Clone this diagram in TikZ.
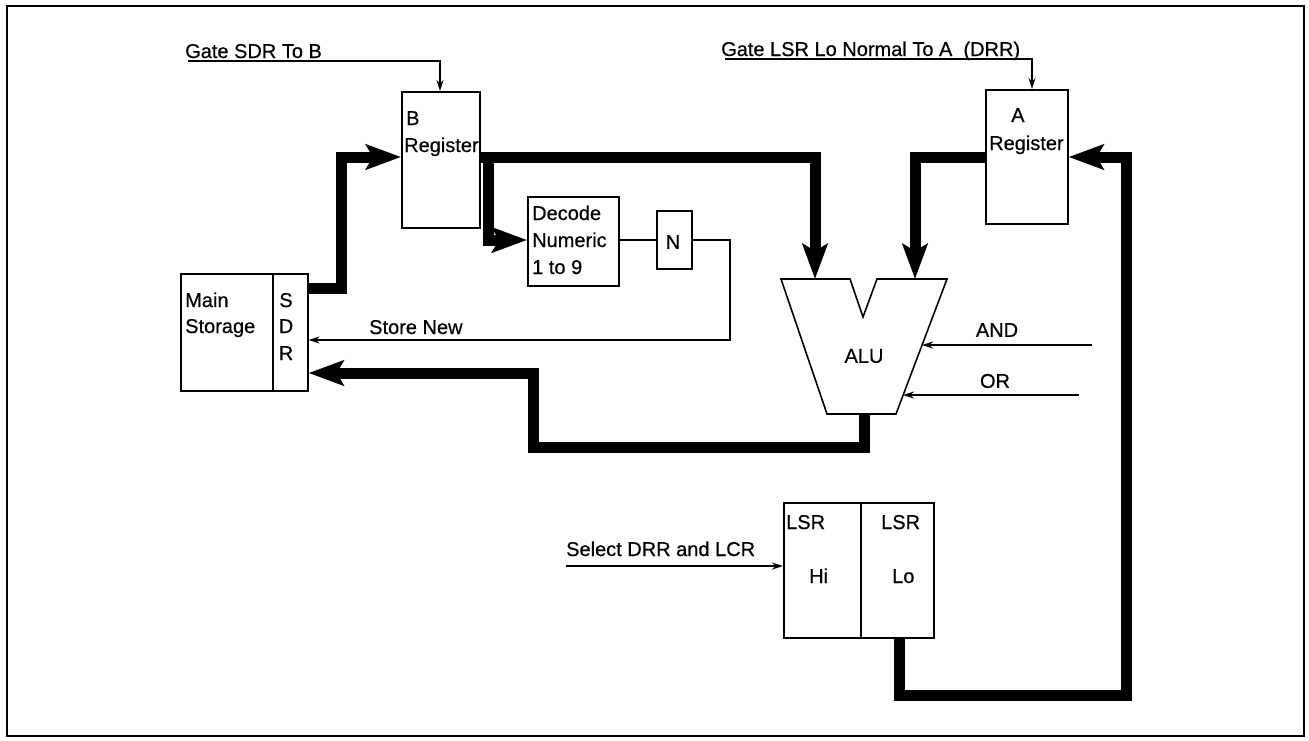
\documentclass[tikz,border=0pt]{standalone}
\usepackage{fontspec}
\setmainfont{Liberation Sans}[FakeBold=0.5]
\usetikzlibrary{arrows.meta}
\begin{document}
\begin{tikzpicture}[x=1pt,y=-1pt,
  box/.style={draw,line width=1.6pt,rectangle,inner sep=0pt,anchor=north west},
  bus/.style={line width=11pt,line join=miter,-{Stealth[length=35pt,width=25pt,inset=7pt]}},
  busplain/.style={line width=11pt,line join=miter},
  sig/.style={line width=1.5pt,-{Stealth[length=11pt,width=7pt]}},
  sigplain/.style={line width=1.5pt},
  lbl/.style={inner sep=0pt,anchor=base west,font=\fontsize{20}{23}\selectfont},
  clbl/.style={inner sep=0pt,font=\fontsize{20}{23}\selectfont}]
\useasboundingbox (0,0) rectangle (1309,740);
\draw[line width=2pt] (7,6) rectangle (1304,736);

% boxes
\node[box,minimum width=78pt,minimum height=136pt] (breg) at (401,91) {};
\node[box,minimum width=91pt,minimum height=89pt] (decode) at (527,196) {};
\node[box,minimum width=35pt,minimum height=58pt] (nbox) at (656,210) {};
\node[box,minimum width=92pt,minimum height=117pt] (ms) at (180,273) {};
\node[box,minimum width=35pt,minimum height=117pt] (sdr) at (272,273) {};
\node[box,minimum width=82pt,minimum height=134pt] (areg) at (985,89) {};
\node[box,minimum width=77pt,minimum height=135pt] (lsrhi) at (783,502) {};
\node[box,minimum width=73pt,minimum height=135pt] (lsrlo) at (860,502) {};

% ALU
\draw[line width=1.6pt,line join=miter] (781,279) -- (850,279) -- (863,317) -- (877,279) -- (947,279) -- (896,414) -- (827,414) -- cycle;
\coordinate (aluB) at (815,279);
\coordinate (aluA) at (915,279);
\coordinate (aluout) at (864,414);
\coordinate (aluand) at (922,345);
\coordinate (aluor) at (903,395);
\node[clbl] (alu) at (864,356) {ALU};

% texts
\node[lbl] (tgsdr) at (185,58) {Gate SDR To B};
\node[lbl] (tgA) at (721,56) {Gate LSR Lo Normal To A\ \ (DRR)};
\node[lbl] (tb1) at (406,125) {B};
\node[lbl] (tb2) at (404,152) {Register};
\node[lbl] (ta1) at (1011,122) {A};
\node[lbl] (ta2) at (989,150) {Register};
\node[lbl] (td1) at (532,220) {Decode};
\node[lbl] (td2) at (532,247) {Numeric};
\node[lbl] (td3) at (532,274) {1 to 9};
\node[clbl] (tn) at (673,242) {N};
\node[lbl] (tm1) at (185,307) {Main};
\node[lbl] (tm2) at (185,333) {Storage};
\node[clbl,anchor=base] (ts) at (286,307) {S};
\node[clbl,anchor=base] (tdd) at (286,333) {D};
\node[clbl,anchor=base] (tr) at (286,360) {R};
\node[lbl] (tstore) at (369,334) {Store New};
\node[clbl] (tand) at (997,330) {AND};
\node[clbl] (tor) at (995,381) {OR};
\node[lbl] (tsel) at (566,556) {Select DRR and LCR};
\node[lbl] (tl1) at (786,529) {LSR};
\node[lbl] (tl2) at (881,529) {LSR};
\node[lbl] (thi) at (809,583) {Hi};
\node[lbl] (tlo) at (892,583) {Lo};

% control signals
\coordinate (gsdr) at (188,61);
\draw[sig] (gsdr) -- (440,61) -- (breg.north -| 440,0);
\coordinate (glsr) at (725,59);
\draw[sig] (glsr) -- (1032,59) -- (areg.north -| 1032,0);
\coordinate (andin) at (1092,345);
\draw[sig] (andin) -- (aluand);
\coordinate (orin) at (1079,395);
\draw[sig] (orin) -- (aluor);
\coordinate (selin) at (566,566);
\draw[sig] (selin) -- (lsrhi.west |- 0,566);
\draw[sigplain] (decode.east |- 0,240) -- (nbox.west |- 0,240);
\draw[sig] (nbox.east |- 0,240) -- (730,240) -- (730,340) -- (sdr.east |- 0,340);

% data buses
\draw[bus] (sdr.east |- 0,288) -- (341,288) -- (341,157) -- (breg.west |- 0,157);
\draw[bus] (breg.east |- 0,157) -- (815,157) -- (aluB);
\draw[bus] (488,157) -- (488,240) -- (decode.west |- 0,240);
\draw[bus] (areg.west |- 0,157) -- (915,157) -- (aluA);
\draw[bus] (aluout) -- (864,447) -- (533,447) -- (533,373) -- (sdr.east |- 0,373);
\draw[bus] (lsrlo.south -| 899,0) -- (899,695) -- (1126,695) -- (1126,157) -- (areg.east |- 0,157);
\end{tikzpicture}
\end{document}
